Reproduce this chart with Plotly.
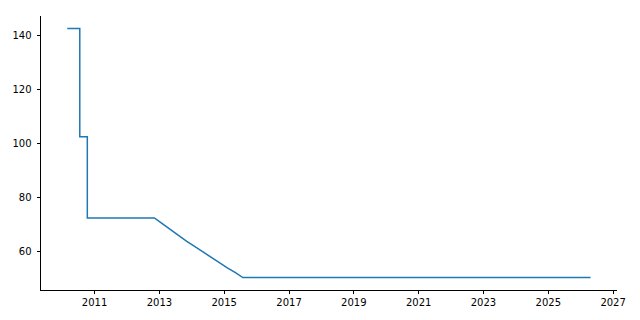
import plotly.graph_objects as go

dates = ["2010-02-28", "2010-07-19", "2010-07-19", "2010-10-12", "2010-10-12",
         "2012-11-06", "2013-02-06", "2013-05-08", "2013-08-07", "2013-11-06",
         "2014-02-06", "2014-05-08", "2014-08-07", "2014-11-06", "2015-02-06",
         "2015-05-08", "2015-07-31", "2026-04-22"]
values = [142.5, 142.5, 102.5, 102.5, 72.5,
          72.5, 70.3, 68.1, 66.0, 63.9,
          61.9, 59.9, 57.9, 56.0, 54.1,
          52.3, 50.5, 50.5]

fig = go.Figure()
fig.add_trace(go.Scatter(x=dates, y=values, mode="lines",
                         line=dict(color="#1f77b4", width=1.5)))

axis_common = dict(showgrid=False, zeroline=False, showline=True, linecolor="black",
                   linewidth=0.8, ticks="outside", ticklen=3.5, tickwidth=0.8,
                   tickcolor="black", tickfont=dict(family="DejaVu Sans", size=10, color="black"))

fig.update_layout(
    width=640, height=320,
    margin=dict(l=41, r=23, t=16, b=30),
    plot_bgcolor="white", paper_bgcolor="white",
    showlegend=False,
    xaxis=dict(range=["2009-05-08", "2027-02-14"], tick0="2011-01-01", dtick="M24",
               tickformat="%Y", **axis_common),
    yaxis=dict(range=[45.9, 147.1], tickvals=[60, 80, 100, 120, 140],
               ticklabelstandoff=3, **axis_common),
)

fig.write_html("out.html")
